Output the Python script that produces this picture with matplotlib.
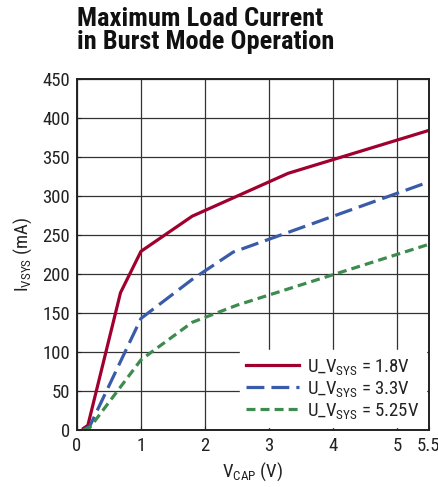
import matplotlib
matplotlib.use('Agg')
import matplotlib.pyplot as plt

plt.rcParams['font.family'] = ['Roboto Condensed', 'DejaVu Sans']
plt.rcParams['mathtext.fontset'] = 'custom'
plt.rcParams['mathtext.rm'] = 'Roboto Condensed'
plt.rcParams['mathtext.it'] = 'Roboto Condensed'

# data
vcap_18 = [0.1, 0.17, 0.68, 1.0, 1.8, 3.3, 5.5]
isys_18 = [2, 6, 176, 229, 274, 329, 384]

vcap_33 = [0.1, 0.2, 1.0, 1.8, 2.44, 5.5]
isys_33 = [0, 5, 143, 193, 228, 318]

vcap_525 = [0.1, 0.2, 1.0, 1.8, 2.5, 5.5]
isys_525 = [0, 3, 90, 138, 160, 238]

labels = [r'U_V$_{\mathrm{SYS}}$ = 1.8V', r'U_V$_{\mathrm{SYS}}$ = 3.3V', r'U_V$_{\mathrm{SYS}}$ = 5.25V']
xticks = [0, 1, 2, 3, 4, 5, 5.5]
xticklabels = ['0', '1', '2', '3', '4', '5', '5.5']
yticks = list(range(0, 451, 50))

fig = plt.figure(figsize=(4.39, 4.87), dpi=100)
ax = fig.add_axes([0.1754, 0.117, 0.8016, 0.721])

ax.plot(vcap_18, isys_18, color='#a0002e', lw=2.3, label=labels[0])
ax.plot(vcap_33, isys_33, color='#3a5ba8', lw=2.3, dashes=(5.6, 2.2), label=labels[1])
ax.plot(vcap_525, isys_525, color='#3d8b4f', lw=2.3, dashes=(2.8, 1.6), label=labels[2])

ax.set_xlim(0, 5.5)
ax.set_ylim(0, 450)
ax.set_xticks(xticks)
ax.set_xticklabels(xticklabels)
ax.set_yticks(yticks)
ax.tick_params(direction='in', length=3, labelsize=13.5, colors='#222222', pad=5)
ax.grid(True, color='#333333', lw=0.9)
ax.set_axisbelow(True)
for s in ax.spines.values():
    s.set_linewidth(1.4)
    s.set_color('#222222')

ax.set_xlabel(r'V$_{\mathrm{CAP}}$ (V)', fontsize=13.5, color='#222222', labelpad=4)
ax.set_ylabel(r'I$_{\mathrm{VSYS}}$ (mA)', fontsize=13.5, color='#222222', labelpad=6)

leg = ax.legend(loc='lower right', fontsize=13.5, frameon=True, framealpha=1,
                edgecolor='white', fancybox=False, handlelength=2.8,
                borderaxespad=0.15, labelspacing=0.1, handletextpad=0.45,
                borderpad=0.35)
for t in leg.get_texts():
    t.set_color('#222222')

fig.text(0.176, 0.985, 'Maximum Load Current\nin Burst Mode Operation',
         fontsize=19, fontweight='bold', va='top', ha='left', linespacing=0.95,
         color='#111111')

fig.savefig('out.png', dpi=100)
